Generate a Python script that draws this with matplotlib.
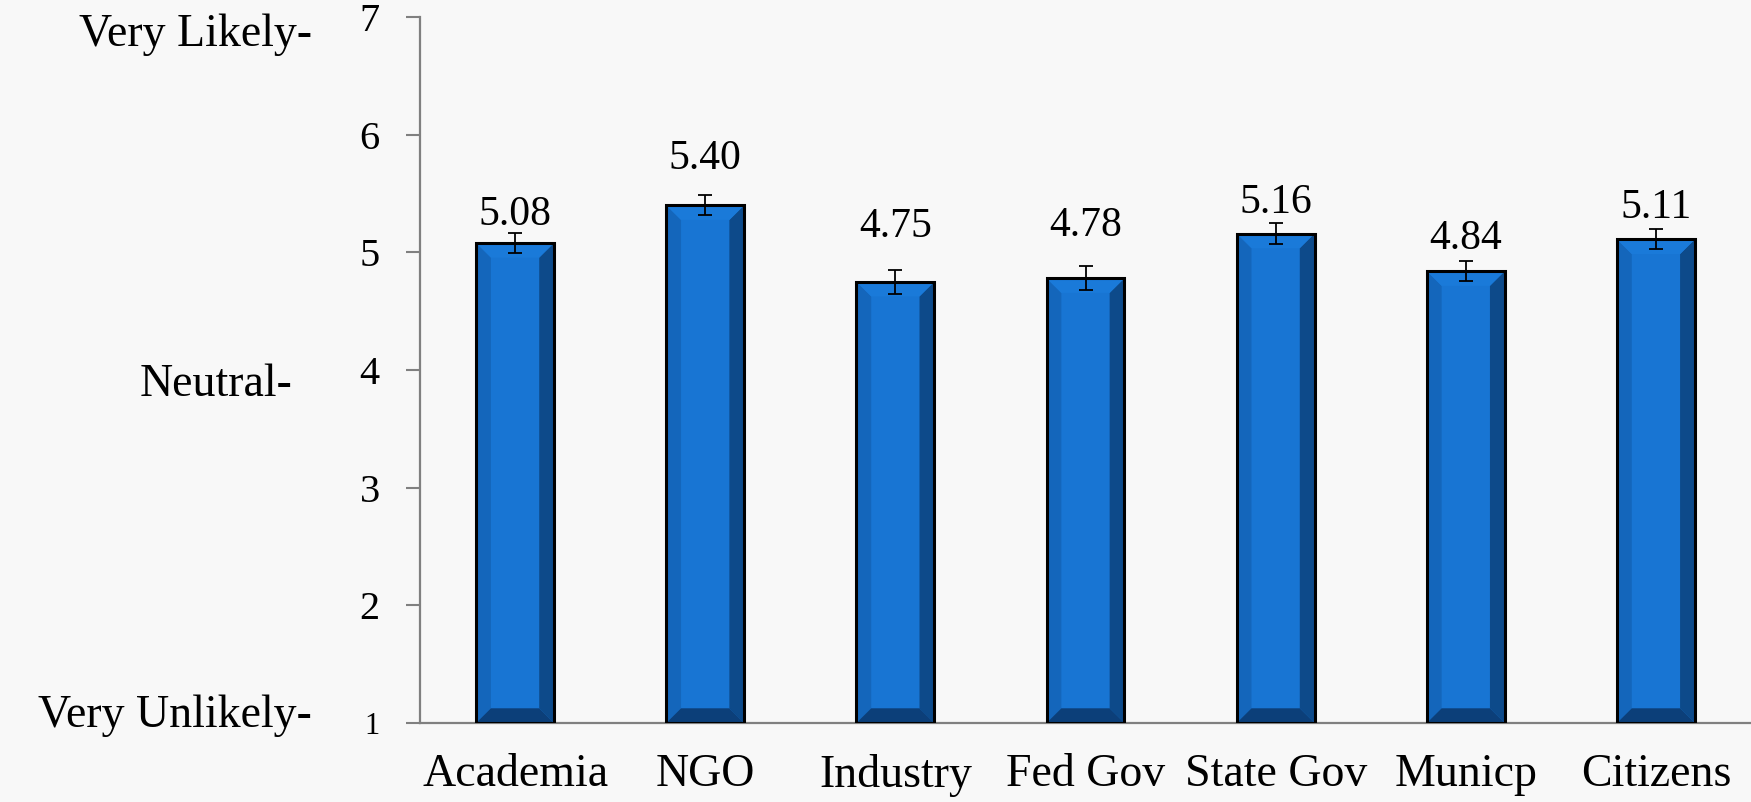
import matplotlib
matplotlib.use("Agg")
import matplotlib.pyplot as plt
from matplotlib.patches import Polygon

categories = ["Academia", "NGO", "Industry", "Fed Gov", "State Gov", "Municp", "Citizens"]
values = [5.08, 5.40, 4.75, 4.78, 5.16, 4.84, 5.11]
errors = [0.085, 0.085, 0.10, 0.10, 0.09, 0.085, 0.085]
value_labels = ["5.08", "5.40", "4.75", "4.78", "5.16", "4.84", "5.11"]
yticks = [1, 2, 3, 4, 5, 6, 7]
side_labels = ["Very Likely-", "Neutral-", "Very Unlikely-"]
side_label_y = [7, 4, 1]

# styling / positions
FONT = "Liberation Serif"
label_gap_pt = [6, 19, 24, 22, 7, 9, 8]       # baseline gap above error bar top
side_dx_pt = [-78, -92, -78]
side_dy_pt = [-21, -19, -3]

fig = plt.figure(figsize=(17.51, 8.02), dpi=100)
fig.patch.set_facecolor("#f8f8f8")
ax = fig.add_axes([420 / 1751, 1 - 723 / 802, 1 - 420 / 1751, (723 - 17) / 802])
ax.set_facecolor("none")

x = list(range(len(categories)))
bw = 0.41
base = 1.0
face = "#1875d3"
bars = ax.bar(x, [v - base for v in values], bottom=base, width=bw,
              color=face, edgecolor="none", zorder=2)

bx, by = 0.078, 0.125
for b in bars:
    x0 = b.get_x()
    x1 = x0 + b.get_width()
    y0 = b.get_y()
    y1 = y0 + b.get_height()
    ix0, ix1, iy0, iy1 = x0 + bx, x1 - bx, y0 + by, y1 - by
    polys = [
        ([(x0, y0), (ix0, iy0), (ix0, iy1), (x0, y1)], "#1466bb"),   # left
        ([(x1, y0), (ix1, iy0), (ix1, iy1), (x1, y1)], "#0d4a8a"),   # right
        ([(x0, y1), (ix0, iy1), (ix1, iy1), (x1, y1)], "#1a7ad9"),   # top
        ([(x0, y0), (ix0, iy0), (ix1, iy0), (x1, y0)], "#0c3f79"),   # bottom
    ]
    for pts, c in polys:
        ax.add_patch(Polygon(pts, closed=True, facecolor=c, edgecolor="none", zorder=3))

ax.bar(x, [v - base for v in values], bottom=base, width=bw,
       fill=False, edgecolor="black", linewidth=2.2, zorder=4)

ax.errorbar(x, values, yerr=errors, fmt="none", ecolor="black",
            elinewidth=1.3, capsize=5, capthick=1.3, zorder=5)

for xi, v, e, lab, g in zip(x, values, errors, value_labels, label_gap_pt):
    ax.annotate(lab, xy=(xi, v + e), xytext=(0, g), textcoords="offset points",
                ha="center", va="baseline", fontsize=30, family=FONT, color="black")

ax.set_xlim(-0.5, 6.5)
ax.set_ylim(1, 7)
ax.set_yticks(yticks)
ax.set_yticklabels([str(t) for t in yticks], fontsize=29, family=FONT)
ax.get_yticklabels()[0].set_fontsize(22)
ax.set_xticks(x)
ax.set_xticklabels(categories, fontsize=33, family=FONT)
ax.tick_params(axis="y", length=10, width=1.5, color="#808080", pad=19, direction="out")
ax.tick_params(axis="x", length=0, pad=22)

for s in ["top", "right"]:
    ax.spines[s].set_visible(False)
for s in ["left", "bottom"]:
    ax.spines[s].set_color("#808080")
    ax.spines[s].set_linewidth(1.6)

for lab, yv, dx, dy in zip(side_labels, side_label_y, side_dx_pt, side_dy_pt):
    ax.annotate(lab, xy=(0, yv), xycoords=("axes fraction", "data"),
                xytext=(dx, dy), textcoords="offset points",
                ha="right", va="baseline", fontsize=33, family=FONT, color="black",
                annotation_clip=False)

fig.savefig("out.png", dpi=100, facecolor=fig.get_facecolor())
